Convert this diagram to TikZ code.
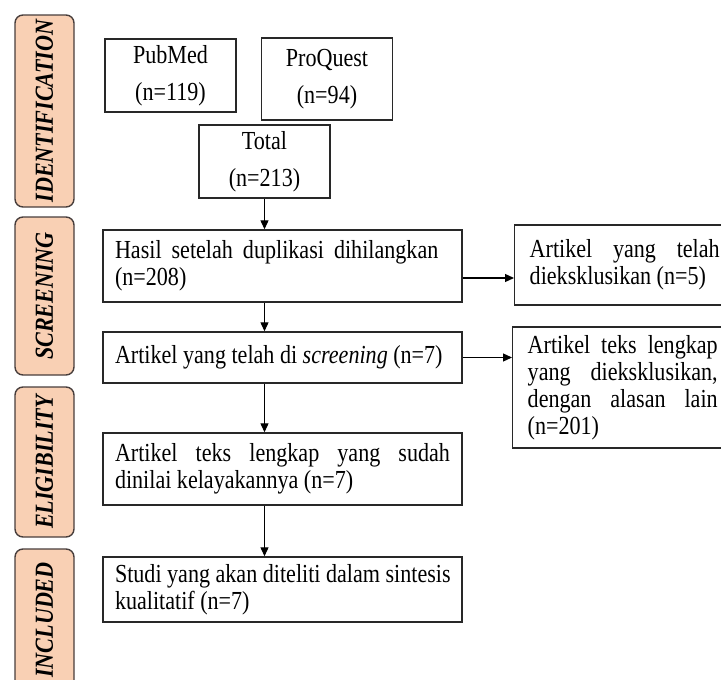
\documentclass[tikz,border=0pt]{standalone}
\usepackage{fontspec}
\setmainfont{Liberation Serif}[FakeStretch=0.85]
\usetikzlibrary{arrows.meta}
\definecolor{labelfill}{RGB}{249,208,180}
\definecolor{labeldraw}{RGB}{72,62,60}
\definecolor{boxdraw}{RGB}{40,40,40}
\newcommand{\boxfont}{\fontsize{26}{27}\selectfont\hyphenpenalty=10000\tolerance=9999\relax}
\newcommand{\tightspace}{\spaceskip=5.5pt plus 20pt\relax}

\begin{document}
\begin{tikzpicture}[x=1pt, y=-1pt,
    every node/.style={font=\boxfont},
    stage/.style={draw=labeldraw, fill=labelfill, line width=1.4pt, rounded corners=8pt,
                  rotate=90, minimum height=59pt, inner sep=0pt,
                  font=\fontsize{26}{27}\selectfont\bfseries\itshape},
    src/.style={draw=boxdraw, line width=1.4pt, align=center, inner sep=0pt,
                minimum width=131pt, font=\fontsize{26}{37}\selectfont},
    box/.style={draw=boxdraw, line width=1.4pt, text width=335pt, inner xsep=12pt,
                inner ysep=0pt, align=left, execute at begin node=\tightspace},
    xbox/.style={draw=boxdraw, line width=1.4pt, text width=190pt, inner xsep=15pt,
                 inner ysep=0pt, align=justify, anchor=west, execute at begin node=\tightspace},
    arr/.style={-{Triangle[length=9pt,width=8pt]}, line width=1.2pt},
]
\useasboundingbox (0,0) rectangle (721,680);
\clip (0,0) rectangle (721,680);
% Stage labels (left column)
\node[stage, minimum width=192pt] (sid) at (44.5,111) {IDENTIFICATION};
\node[stage, minimum width=158pt] (ssc) at (44.5,296) {SCREENING};
\node[stage, minimum width=150pt] (sel) at (44.5,462) {ELIGIBILITY};
\node[stage, minimum width=142pt] (sin) at (44.5,620) {INCLUDED};
% Sources
\node[src, minimum height=73pt] (pub) at (170.5,75.5) {PubMed\\(n=119)};
\node[src, minimum height=82pt] (pq)  at (327,79)     {ProQuest\\(n=94)};
\node[src, minimum height=73pt] (tot) at (264.5,161.5) {Total\\(n=213)};
% Main column
\node[box, minimum height=72pt] (hasil) at (282.5,266) {Hasil setelah duplikasi dihilangkan (n=208)};
\node[box, minimum height=51pt] (scr)   at (282.5,357.5) {Artikel yang telah di \textit{screening} (n=7)};
\node[box, minimum height=72pt, align=justify] (teks) at (282.5,469) {Artikel teks lengkap yang sudah dinilai kelayakannya (n=7)};
\node[box, minimum height=65pt] (studi) at (282.5,589.5) {\mbox{Studi yang akan diteliti dalam sintesis}\\kualitatif (n=7)};
% Excluded (right column)
\node[xbox, minimum height=80pt]  (ex1) at (514,265)   {Artikel yang telah dieksklusikan (n=5)};
\node[xbox, minimum height=121pt] (ex2) at (512,387.5) {Artikel teks lengkap yang dieksklusikan, dengan alasan lain (n=201)};
% Arrows down
\draw[arr] (tot.south) -- (tot.south |- hasil.north);
\draw[arr] (hasil.south -| tot.south) -- (scr.north -| tot.south);
\draw[arr] (scr.south -| tot.south) -- (teks.north -| tot.south);
\draw[arr] (teks.south -| tot.south) -- (studi.north -| tot.south);
% Arrows right
\coordinate (h1) at ([yshift=-12pt]hasil.east);
\draw[arr] (h1) -- (h1 -| ex1.west);
\draw[arr] (scr.east) -- (scr.east -| ex2.west);
\end{tikzpicture}
\end{document}
